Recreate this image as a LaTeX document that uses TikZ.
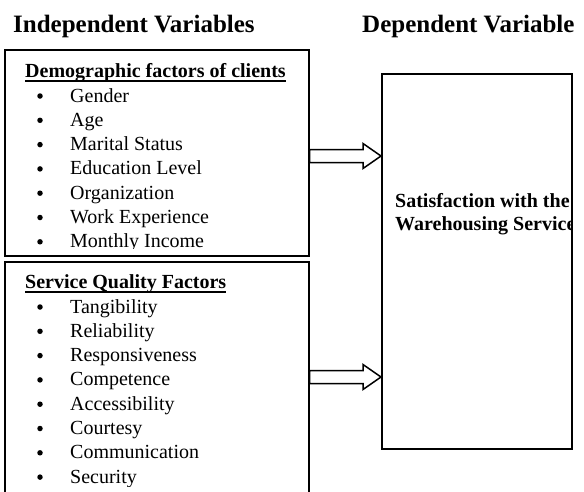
\documentclass[tikz,border=0pt]{standalone}
\usepackage{fontspec}
\setmainfont{Liberation Serif}
\usepackage{tikz}
\usetikzlibrary{calc}
\tikzset{
  varbox/.style={draw, line width=1.6pt, anchor=north west, inner sep=0pt},
  heading/.style={anchor=base west, inner sep=0pt, font=\fontsize{25}{29}\selectfont\bfseries},
  facthead/.style={anchor=base west, inner sep=0pt, font=\fontsize{20}{24}\selectfont\bfseries},
  factitem/.style={anchor=base west, inner sep=0pt, font=\fontsize{20}{24}\selectfont},
  factdot/.style={circle, fill, inner sep=0pt, minimum size=5.5pt},
  blockarrow/.style={draw, line width=1.5pt, fill=white, line join=miter}
}
\newcommand{\hollowarrow}[2]{%
  \draw[blockarrow] ($(#1)+(0,-6.5)$) -- ($(#2)+(-18,-6.5)$) -- ($(#2)+(-18,-12.5)$)
    -- (#2) -- ($(#2)+(-18,12.5)$) -- ($(#2)+(-18,6.5)$) -- ($(#1)+(0,6.5)$) -- cycle;}

\begin{document}
\begin{tikzpicture}[x=1pt,y=-1pt]
\useasboundingbox (0,0) rectangle (584,491);
\node[heading] (indep) at (13,32) {Independent Variables};
\node[heading] (dep) at (362,32) {Dependent Variable};

\node[varbox, minimum width=304pt, minimum height=206pt] (demo) at (4,49) {};
\node[varbox, minimum width=304pt, minimum height=240pt] (serv) at (4,261) {};
\node[varbox, minimum width=190pt, minimum height=375pt] (satis) at (381,73) {};

\begin{scope}
\clip (demo.north west) rectangle ([yshift=8pt]demo.south east);
\node[facthead] (demohead) at (25,77) {Demographic factors of clients};
\draw[line width=1.3pt] ([yshift=-4pt]demohead.base west) -- ([yshift=-4pt]demohead.base east);
\foreach \fact [count=\n from 0] in {Gender, Age, Marital Status, Education Level,
    Organization, Work Experience, Monthly Income} {
  \node[factdot] (demodot-\n) at (40,{96+24.3*\n}) {};
  \node[factitem] (demo-\n) at (70,{102+24.3*\n}) {\fact};
}
\end{scope}

\begin{scope}
\clip (serv.north west) rectangle (308,486);
\node[facthead] (servhead) at (25,288) {Service Quality Factors};
\draw[line width=1.3pt] ([yshift=-4pt]servhead.base west) -- ([yshift=-4pt]servhead.base east);
\foreach \fact [count=\n from 0] in {Tangibility, Reliability, Responsiveness, Competence,
    Accessibility, Courtesy, Communication, Security} {
  \node[factdot] (servdot-\n) at (40,{307+24.3*\n}) {};
  \node[factitem] (serv-\n) at (70,{313+24.3*\n}) {\fact};
}
\end{scope}

\begin{scope}
\clip (satis.north west) rectangle ([xshift=-1pt]satis.south east);
\node[facthead] (satis-1) at (395,207) {Satisfaction with the};
\node[facthead] (satis-2) at (395,230) {Warehousing Service};
\end{scope}

\coordinate (arr1s) at (demo.east |- 0,156);
\coordinate (arr1e) at (satis.west |- 0,156);
\coordinate (arr2s) at (serv.east |- 0,377);
\coordinate (arr2e) at (satis.west |- 0,377);
\hollowarrow{arr1s}{arr1e}
\hollowarrow{arr2s}{arr2e}
\end{tikzpicture}
\end{document}
